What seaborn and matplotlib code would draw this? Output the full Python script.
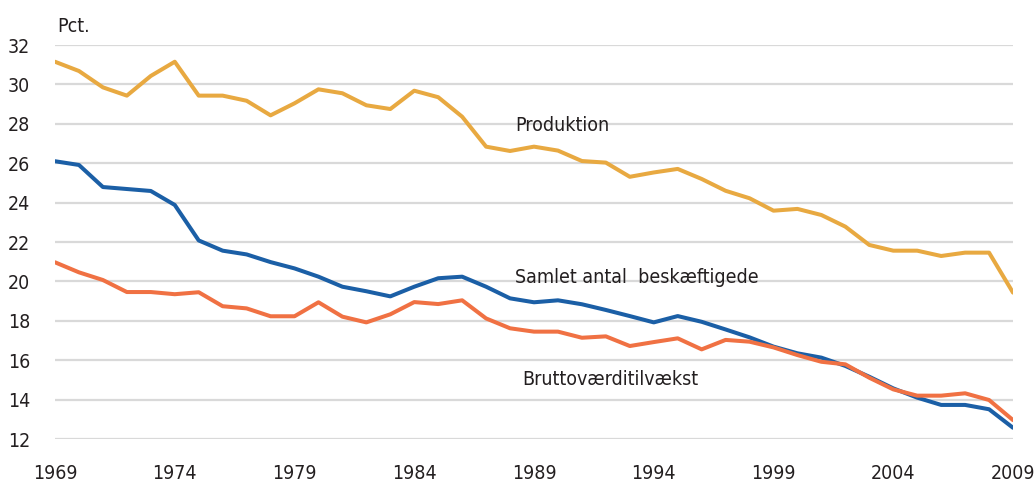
import numpy as np
import pandas as pd
import matplotlib
matplotlib.use("Agg")
import matplotlib.pyplot as plt
import seaborn as sns
from matplotlib import font_manager

# data (pct.)
years = list(range(1969, 2010))

produktion = [31.15, 30.68, 29.85, 29.43, 30.43, 31.15, 29.43, 29.43, 29.17, 28.43,
              29.04, 29.75, 29.55, 28.94, 28.75, 29.68, 29.35, 28.36, 26.84, 26.62,
              26.84, 26.64, 26.11, 26.03, 25.31, 25.53, 25.71, 25.20, 24.60, 24.22,
              23.59, 23.68, 23.37, 22.78, 21.85, 21.56, 21.56, 21.29, 21.46, 21.46,
              19.43]

beskaeftigede = [26.10, 25.91, 24.79, 24.69, 24.59, 23.88, 22.08, 21.56, 21.37, 20.98,
                 20.66, 20.24, 19.73, 19.50, 19.24, 19.73, 20.16, 20.24, 19.73, 19.14,
                 18.94, 19.04, 18.84, 18.55, 18.24, 17.92, 18.24, 17.95, 17.56, 17.16,
                 16.69, 16.35, 16.13, 15.71, 15.16, 14.57, 14.10, 13.73, 13.73, 13.51,
                 12.57]

brutto = [20.97, 20.46, 20.07, 19.46, 19.46, 19.35, 19.45, 18.74, 18.63, 18.23,
          18.23, 18.94, 18.21, 17.92, 18.33, 18.95, 18.85, 19.04, 18.12, 17.62,
          17.45, 17.45, 17.14, 17.21, 16.72, 16.92, 17.11, 16.55, 17.03, 16.94,
          16.65, 16.26, 15.92, 15.79, 15.11, 14.52, 14.20, 14.20, 14.32, 13.98,
          12.96]

series_names = ["Produktion", "Samlet antal  beskæftigede", "Bruttoværditilvækst"]
colors = ["#E8A941", "#1B5FA6", "#F07143"]

df = pd.DataFrame({
    "year": years * 3,
    "value": produktion + beskaeftigede + brutto,
    "series": [series_names[0]] * len(years) + [series_names[1]] * len(years)
              + [series_names[2]] * len(years),
})

sns.set_theme(style="white")

# look for a condensed face, the original uses a narrow sans
font_path = None
for f in font_manager.fontManager.ttflist:
    if "Narrow" in f.name or "Condensed" in f.name or str(f.stretch) in ("condensed", "semi-condensed", "375", "500"):
        if f.weight in (400, "normal", "regular") and f.style == "normal":
            font_path = f.fname
            break

if font_path:
    prop = font_manager.FontProperties(fname=font_path, size=14)
    plt.rcParams["font.family"] = [prop.get_name(), "DejaVu Sans"]
else:
    plt.rcParams["font.family"] = ["Liberation Sans", "DejaVu Sans"]
    prop = font_manager.FontProperties(family=["Liberation Sans"], size=13.5)

fig = plt.figure(figsize=(10.36, 4.86), dpi=100)
ax = fig.add_axes([0.0531, 0.0967, 0.9247, 0.8107])

sns.lineplot(data=df, x="year", y="value", hue="series", palette=colors,
             linewidth=2.9, legend=False, ax=ax, zorder=3)

ax.set_xlim(1969, 2009)
ax.set_ylim(12, 32)
ax.set_xticks(range(1969, 2010, 5))
ax.set_yticks(range(12, 33, 2))
ax.tick_params(axis="both", length=0, colors="#231F20")
ax.tick_params(axis="y", pad=18)
ax.tick_params(axis="x", pad=18)
for lab in ax.get_xticklabels() + ax.get_yticklabels():
    lab.set_fontproperties(prop)
ax.yaxis.grid(True, color="#D9D9D9", linewidth=1.6)
ax.xaxis.grid(False)
for s in ax.spines.values():
    s.set_visible(False)
ax.set_xlabel("")
ax.set_ylabel("")

txt = dict(color="#231F20", va="center", ha="left", fontproperties=prop)
ax.text(1988.2, 27.9, series_names[0], **txt)
ax.text(1988.2, 20.22, series_names[1], **txt)
ax.text(1988.5, 15.0, series_names[2], **txt)
ax.text(1969.1, 32.96, "Pct.", clip_on=False, **txt)

fig.savefig("out.png", dpi=100)
